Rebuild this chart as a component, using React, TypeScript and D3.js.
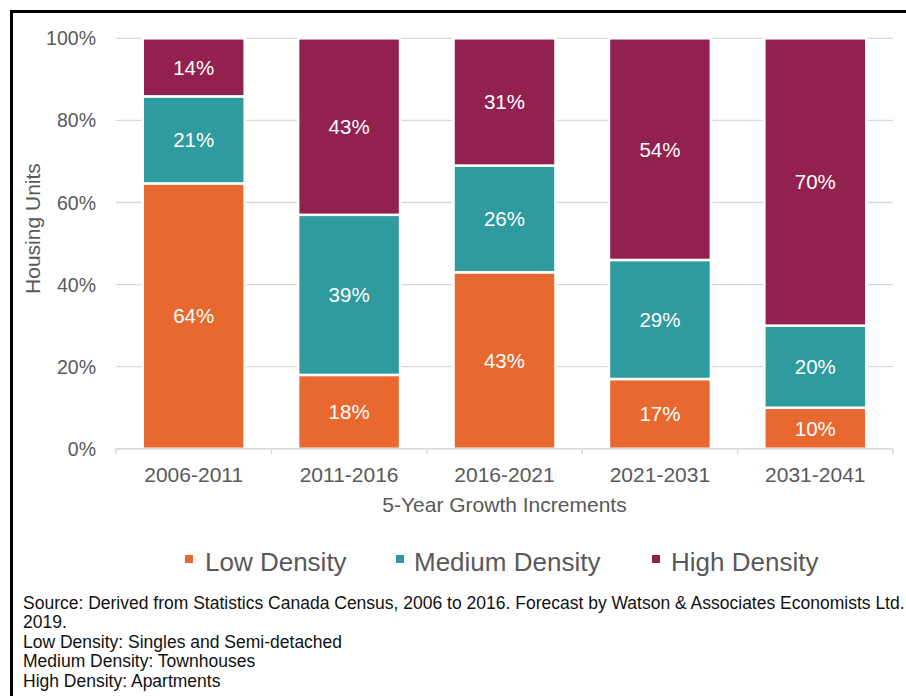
import React from "react";
import * as d3 from "d3";

const categories = ["2006-2011", "2011-2016", "2016-2021", "2021-2031", "2031-2041"];
const lowDensity = [64, 18, 43, 17, 10];
const mediumDensity = [21, 39, 26, 29, 20];
const highDensity = [14, 43, 31, 54, 70];
const seriesNames = ["Low Density", "Medium Density", "High Density"];
const seriesColors = ["#E8692F", "#2F9B9E", "#93214F"];
const yTicks = [0, 20, 40, 60, 80, 100];
const sourceLines = [
  "Source: Derived from Statistics Canada Census, 2006 to 2016. Forecast by Watson & Associates Economists Ltd.",
  "2019.",
  "Low Density: Singles and Semi-detached",
  "Medium Density: Townhouses",
  "High Density: Apartments",
];

const W = 906;
const H = 696;
const plot = { left: 116, right: 893, top: 38.3, bottom: 448.8 };
const grey = "#595959";
const font = "Arial, 'Liberation Sans', sans-serif";

export default function App() {
  const x = d3
    .scaleBand<string>()
    .domain(categories)
    .range([plot.left, plot.right])
    .paddingInner(0.344)
    .paddingOuter(0.172);
  const y = d3.scaleLinear().domain([0, 100]).range([plot.bottom, plot.top]);

  const rows = categories.map((c, i) => {
    const vals = [lowDensity[i], mediumDensity[i], highDensity[i]];
    const total = d3.sum(vals);
    return { cat: c, vals, norm: vals.map((v) => (v / total) * 100) };
  });

  const step = x.step();
  const boundaries = d3.range(categories.length + 1).map((i) => plot.left + i * step);

  const legendItems = [
    { sq: 185, tx: 205 },
    { sq: 396, tx: 414 },
    { sq: 652, tx: 671 },
  ];

  return (
    <div style={{ position: "absolute", left: 0, top: 0 }}>
      <svg width={W} height={H} style={{ display: "block", background: "#fff" }}>
        <rect x={0} y={0} width={W} height={H} fill="#fff" />
        {/* frame */}
        <line x1={11.5} y1={10} x2={11.5} y2={H} stroke="#000" strokeWidth={3} />
        <line x1={10} y1={11.5} x2={W} y2={11.5} stroke="#000" strokeWidth={3} />

        {/* gridlines */}
        {yTicks.slice(1).map((t) => (
          <line key={t} x1={plot.left} x2={plot.right} y1={y(t)} y2={y(t)} stroke="#D9D9D9" strokeWidth={1.3} />
        ))}
        {/* y tick labels */}
        {yTicks.map((t) => (
          <text
            key={t}
            x={96}
            y={y(t)}
            dy="0.36em"
            textAnchor="end"
            fontFamily={font}
            fontSize={19.5}
            fill={grey}
          >
            {t}%
          </text>
        ))}

        {/* bars */}
        {rows.map((r) => {
          let acc = 0;
          return (
            <g key={r.cat}>
              {r.norm.map((v, si) => {
                const y0 = acc;
                const y1 = acc + v;
                acc = y1;
                const top = y(y1);
                const bot = y(y0);
                return (
                  <g key={si}>
                    <rect
                      x={x(r.cat)}
                      y={top}
                      width={x.bandwidth()}
                      height={bot - top}
                      fill={seriesColors[si]}
                      stroke="#fff"
                      strokeWidth={2.5}
                    />
                    <text
                      x={(x(r.cat) as number) + x.bandwidth() / 2}
                      y={(top + bot) / 2}
                      dy="0.36em"
                      textAnchor="middle"
                      fontFamily={font}
                      fontSize={20.5}
                      fill="#fff"
                    >
                      {r.vals[si]}%
                    </text>
                  </g>
                );
              })}
            </g>
          );
        })}

        {/* x axis */}
        <line x1={plot.left} x2={plot.right} y1={plot.bottom} y2={plot.bottom} stroke="#D9D9D9" strokeWidth={1.5} />
        {boundaries.map((b, i) => (
          <line key={i} x1={b} x2={b} y1={plot.bottom} y2={plot.bottom + 5} stroke="#D9D9D9" strokeWidth={1.5} />
        ))}
        {categories.map((c) => (
          <text
            key={c}
            x={(x(c) as number) + x.bandwidth() / 2}
            y={482}
            textAnchor="middle"
            fontFamily={font}
            fontSize={21}
            fill={grey}
          >
            {c}
          </text>
        ))}
        <text
          x={(plot.left + plot.right) / 2}
          y={512}
          textAnchor="middle"
          fontFamily={font}
          fontSize={21}
          fill={grey}
        >
          5-Year Growth Increments
        </text>
        <text
          transform={`translate(40,${(plot.top + plot.bottom) / 2 - 15}) rotate(-90)`}
          textAnchor="middle"
          fontFamily={font}
          fontSize={21}
          fill={grey}
        >
          Housing Units
        </text>

        {/* legend */}
        {seriesNames.map((n, i) => (
          <g key={n}>
            <rect x={legendItems[i].sq} y={555} width={8} height={8} fill={seriesColors[i]} />
            <text x={legendItems[i].tx} y={571} fontFamily={font} fontSize={26} fill={grey}>
              {n}
            </text>
          </g>
        ))}

        {/* source */}
        {sourceLines.map((l, i) => (
          <text
            key={i}
            x={23}
            y={609 + i * 19.4}
            fontFamily="'Liberation Sans', Arial, sans-serif"
            fontSize={17.5}
            fill="#111"
          >
            {l}
          </text>
        ))}
      </svg>
    </div>
  );
}
